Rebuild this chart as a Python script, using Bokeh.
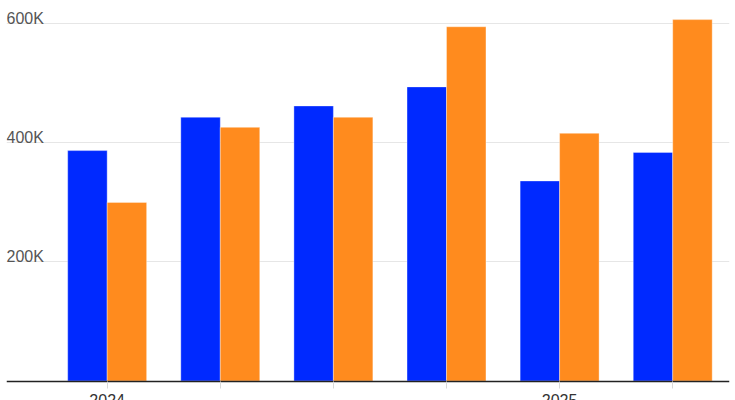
import numpy as np
from bokeh.plotting import figure
from bokeh.models import Range1d, FixedTicker, ColumnDataSource
from bokeh.transform import dodge
from bokeh.core.properties import value
from bokeh.embed import file_html
from bokeh.resources import INLINE

# ---- data ----
periods = ["Q1 2024", "Q2 2024", "Q3 2024", "Q4 2024", "Q1 2025", "Q2 2025"]
period_tick_labels = ["2024", "", "", "", "2025", ""]
series_blue = [387000, 443000, 462000, 494000, 336000, 384000]
series_orange = [300000, 426000, 443000, 595000, 416000, 607000]
y_ticks = [200000, 400000, 600000]
y_tick_labels = ["200K", "400K", "600K"]

FONT = "Liberation Sans"
BLUE = "#0029ff"
ORANGE = "#ff8b1e"

xs = list(range(len(periods)))
src = ColumnDataSource(dict(x=xs, blue=series_blue, orange=series_orange, period=periods))

p = figure(width=735, height=400, output_backend="svg", toolbar_location=None,
           x_range=Range1d(-0.890, 5.502), y_range=Range1d(-32750, 639100),
           min_border_left=6, min_border_right=6, min_border_top=0, min_border_bottom=0,
           outline_line_color=None, background_fill_color="white")

bar_w = 0.349
p.vbar(x=dodge("x", -bar_w / 2, range=p.x_range), top="blue", width=bar_w, source=src,
       fill_color=BLUE, line_color="white", line_alpha=0.35, line_width=1)
p.vbar(x=dodge("x", bar_w / 2, range=p.x_range), top="orange", width=bar_w, source=src,
       fill_color=ORANGE, line_color="white", line_alpha=0.35, line_width=1)

# x axis drawn at zero
xa = p.xaxis[0]
xa.fixed_location = 0
xa.ticker = FixedTicker(ticks=xs)
xa.major_label_overrides = {i: lab for i, lab in zip(xs, period_tick_labels)}
xa.minor_tick_line_color = None
xa.major_tick_in = 0
xa.major_tick_out = 7
xa.major_tick_line_color = "#d9d9d9"
xa.axis_line_color = "#222222"
xa.axis_line_width = 1.5
xa.major_label_standoff = 6
xa.major_label_text_font = FONT
xa.major_label_text_font_size = "16px"
xa.major_label_text_color = "#333333"
p.xgrid.visible = False

# y grid, labels inside plot above grid lines
p.yaxis.visible = False
p.yaxis.ticker = FixedTicker(ticks=y_ticks)
p.ygrid.ticker = FixedTicker(ticks=y_ticks)
p.ygrid.grid_line_color = "#e6e6e6"
p.ygrid.grid_line_width = 1

lab_src = ColumnDataSource(dict(y=y_ticks, t=y_tick_labels,
                                x=[p.x_range.start] * len(y_ticks)))
p.text(x="x", y="y", text="t", source=lab_src, text_font=value(FONT),
       text_font_size="16px", text_color="#555555", text_align="left",
       text_baseline="alphabetic", y_offset=-5)

open("out.html", "w").write(file_html(p, INLINE))
